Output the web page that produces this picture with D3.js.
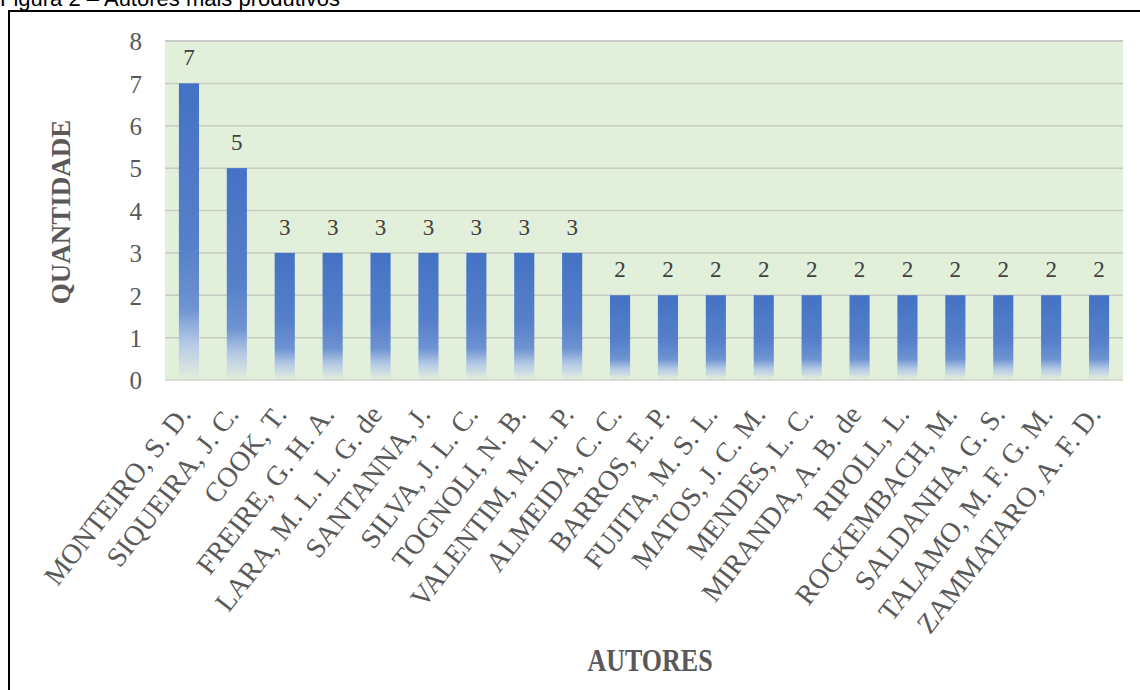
<!DOCTYPE html>
<html><head><meta charset="utf-8">
<script src="https://cdn.jsdelivr.net/npm/d3@7"></script>
<style>body{margin:0;background:#fff;}svg{display:block;}</style>
</head><body>
<script>
const categories = ["MONTEIRO, S. D.","SIQUEIRA, J. C.","COOK, T.","FREIRE, G. H. A.","LARA, M. L. L. G. de","SANTANNA, J.","SILVA, J. L. C.","TOGNOLI, N. B.","VALENTIM, M. L. P.","ALMEIDA, C. C.","BARROS, E. P.","FUJITA, M. S. L.","MATOS, J. C. M.","MENDES, L. C.","MIRANDA, A. B. de","RIPOLL, L.","ROCKEMBACH, M.","SALDANHA, G. S.","TALAMO, M. F. G. M.","ZAMMATARO, A. F. D."];
const values = [7,5,3,3,3,3,3,3,3,2,2,2,2,2,2,2,2,2,2,2];
const yTicks = [0,1,2,3,4,5,6,7,8];
const title = "Figura 2 – Autores mais produtivos";
const xTitle = "AUTORES";
const yTitle = "QUANTIDADE";

const W = 1140, H = 690;
const svg = d3.select("body").append("svg").attr("width", W).attr("height", H);
const m = {left:165, right:1123, top:41, bottom:380};
const serif = "Liberation Serif, Times New Roman, serif";

const defs = svg.append("defs");
const g = defs.append("linearGradient").attr("id","barGrad").attr("x1",0).attr("y1",0).attr("x2",0).attr("y2",1);
g.append("stop").attr("offset","0%").attr("stop-color","#4472C4");
g.append("stop").attr("offset","55%").attr("stop-color","#5680C9");
g.append("stop").attr("offset","76%").attr("stop-color","#6E93D1");
g.append("stop").attr("offset","88%").attr("stop-color","#B5C9E6");
g.append("stop").attr("offset","100%").attr("stop-color","#E2ECDC");

// title and frame
svg.append("text").attr("x",0).attr("y",6).attr("font-family","Liberation Sans, Arial, sans-serif")
  .attr("font-size",22).attr("fill","#000").text(title);
svg.append("rect").attr("x",9).attr("y",11).attr("width",W+20).attr("height",H+20)
  .attr("fill","none").attr("stroke","#000").attr("stroke-width",2);

const x = d3.scaleBand().domain(categories).range([m.left, m.right]).paddingInner(0.58).paddingOuter(0.29);
const y = d3.scaleLinear().domain([0,8]).range([m.bottom, m.top]);

// plot background
svg.append("rect").attr("x",m.left).attr("y",m.top).attr("width",m.right-m.left).attr("height",m.bottom-m.top).attr("fill","#E2EFDA");

// gridlines
svg.append("g").selectAll("line").data(yTicks).join("line")
  .attr("x1",m.left).attr("x2",m.right).attr("y1",d=>y(d)).attr("y2",d=>y(d))
  .attr("stroke",d=>d===0?"#D6DCD2":(d===8?"#BDBDBD":"#C5CBC2")).attr("stroke-width",d=>d===0?2:1.5);

// y axis tick labels
const yAxis = d3.axisLeft(y).tickValues(yTicks).tickSize(0).tickPadding(0);
const ya = svg.append("g").attr("transform",`translate(${m.left-23},0)`).call(yAxis);
ya.select(".domain").remove();
ya.selectAll("text").attr("font-family",serif).attr("font-size",25).attr("fill","#595959").attr("dy","0.35em");

// bars
svg.append("g").selectAll("rect").data(values).join("rect")
  .attr("x",(d,i)=>x(categories[i])).attr("width",x.bandwidth())
  .attr("y",d=>y(d)).attr("height",d=>y(0)-y(d)-1).attr("fill","url(#barGrad)");

// value labels
svg.append("g").selectAll("text").data(values).join("text")
  .attr("x",(d,i)=>x(categories[i])+x.bandwidth()/2).attr("y",d=>y(d)-18)
  .attr("text-anchor","middle").attr("font-family",serif)
  .attr("font-size",23).attr("fill","#404040").text(d=>d);

// x axis labels
const xAxis = d3.axisBottom(x).tickSize(0).tickPadding(0);
const xa = svg.append("g").attr("transform",`translate(0,${m.bottom})`).call(xAxis);
xa.select(".domain").remove();
xa.selectAll("text").attr("font-family",serif).attr("font-size",28)
  .attr("fill","#595959").attr("text-anchor","end").attr("dy",0)
  .attr("transform","translate(3,35) rotate(-52)");

// axis titles
svg.append("text").attr("transform","translate(650,671) scale(1,1.2)").attr("text-anchor","middle")
  .attr("font-family",serif).attr("font-weight","bold").attr("font-size",26)
  .attr("fill","#595959").text(xTitle);
svg.append("text").attr("transform","translate(70,212) rotate(-90)").attr("text-anchor","middle")
  .attr("font-family",serif).attr("font-weight","bold").attr("font-size",27)
  .attr("fill","#595959").text(yTitle);
</script>
</body></html>
